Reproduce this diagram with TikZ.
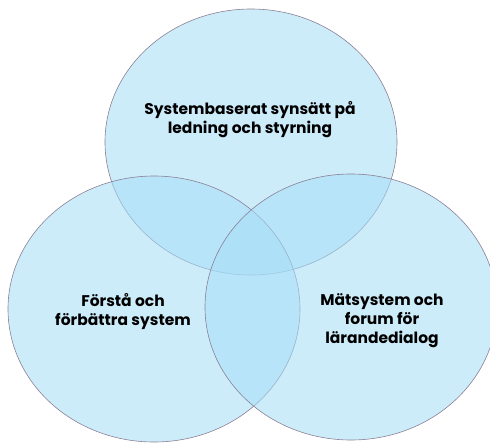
\documentclass[tikz,border=0pt]{standalone}
\usepackage{fontspec}
\setmainfont{Poppins}
\usepackage{tikz}
\usetikzlibrary{positioning}
\definecolor{vennfill}{RGB}{166,221,246}
\definecolor{vennedge}{RGB}{138,128,150}

\begin{document}
\begin{tikzpicture}[x=1pt, y=-1pt,
    ring/.style={fill=vennfill, fill opacity=0.56, draw=vennedge, line width=0.6pt},
    label/.style={align=center, font=\bfseries\fontsize{15.5}{19}\selectfont, text=black}]
    \useasboundingbox (0,0) rectangle (490,442);
    % Three overlapping sets
    \begin{scope}
        \clip (0,0) rectangle (490,442);
        \foreach \cx/\cy in {251/142, 154/309, 351/307} {
            \draw[ring] (\cx,\cy) ellipse [x radius=146, y radius=133];
        }
    \end{scope}
    
    % Set labels
    \node[label] (top) at (250,120) {Systembaserat synsätt på\\ledning och styrning};
    \node[label] (left) at (123,312) {Förstå och\\förbättra system};
    \node[label] (right) at (382,321) {Mätsystem och\\forum för\\lärandedialog};
\end{tikzpicture}
\end{document}
